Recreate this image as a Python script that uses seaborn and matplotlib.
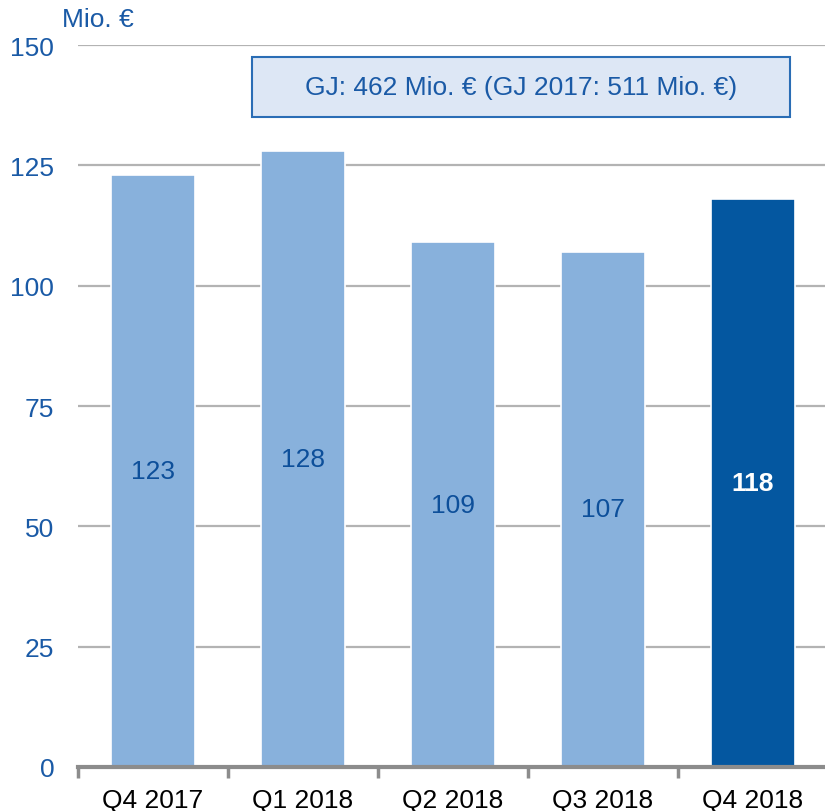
#!/usr/bin/env python3

import matplotlib
matplotlib.use("Agg")
import matplotlib.pyplot as plt
from matplotlib.patches import Rectangle
from matplotlib.ticker import FixedLocator
import seaborn as sns

# Data
QUARTERS = ["Q4 2017", "Q1 2018", "Q2 2018", "Q3 2018", "Q4 2018"]
VALUES = [123, 128, 109, 107, 118]
Y_TICKS = [0, 25, 50, 75, 100, 125, 150]
UNIT_LABEL = "Mio. €"
NOTE_TEXT = "GJ: 462 Mio. € (GJ 2017: 511 Mio. €)"

# Colours
COL_LIGHT = "#88b1dc"
COL_DARK = "#0457a0"
COL_TEXT = "#1a5aa6"
COL_GRID = "#b3b3b3"

sns.set_theme(style="white")
plt.rcParams["font.family"] = ["Liberation Sans", "DejaVu Sans"]

fig = plt.figure(figsize=(8.25, 8.12), dpi=100)
ax = fig.add_axes([0.0945, 0.0542, 0.909, 0.8891])

palette = [COL_LIGHT] * (len(QUARTERS) - 1) + [COL_DARK]
sns.barplot(x=QUARTERS, y=VALUES, hue=QUARTERS, palette=palette, width=0.56,
            legend=False, edgecolor="white", linewidth=1.2, saturation=1, ax=ax)

ax.set_xlim(-0.5, len(QUARTERS) - 0.5)
ax.set_ylim(0, 150)
ax.set_yticks(Y_TICKS)
ax.yaxis.grid(True, color=COL_GRID, linewidth=1.6)
ax.set_axisbelow(True)

for side in ["top", "right", "left"]:
    ax.spines[side].set_visible(False)
ax.spines["bottom"].set_color("#8c8c8c")
ax.spines["bottom"].set_linewidth(3)

ax.tick_params(axis="y", length=0, pad=17, labelsize=19, labelcolor=COL_TEXT)
ax.tick_params(axis="x", which="major", length=0, pad=15, labelsize=19, labelcolor="black")
ax.xaxis.set_minor_locator(FixedLocator([i - 0.5 for i in range(len(QUARTERS) + 1)]))
ax.tick_params(axis="x", which="minor", direction="out", length=8, width=2.5,
               color="#8c8c8c", bottom=True)
ax.set_xlabel("")
ax.set_ylabel("")

# Value labels in the middle of each bar
for i, v in enumerate(VALUES):
    last = i == len(VALUES) - 1
    ax.text(i, v / 2, str(v), ha="center", va="center", fontsize=19,
            color="white" if last else "#0d4f9a",
            fontweight="bold" if last else "normal")

# Annual total box
ax.add_patch(Rectangle((0.66, 135.0), 3.587, 12.5, facecolor="#dde7f5",
                       edgecolor="#2a6db5", linewidth=1.5, zorder=3))
ax.text(0.66 + 3.587 / 2, 141.25, NOTE_TEXT, ha="center", va="center",
        fontsize=19, color=COL_TEXT, zorder=4)

fig.text(62 / 825, 1 - 20 / 812, UNIT_LABEL, ha="left", va="center",
         fontsize=19, color=COL_TEXT)

fig.savefig("out.png", dpi=100)
